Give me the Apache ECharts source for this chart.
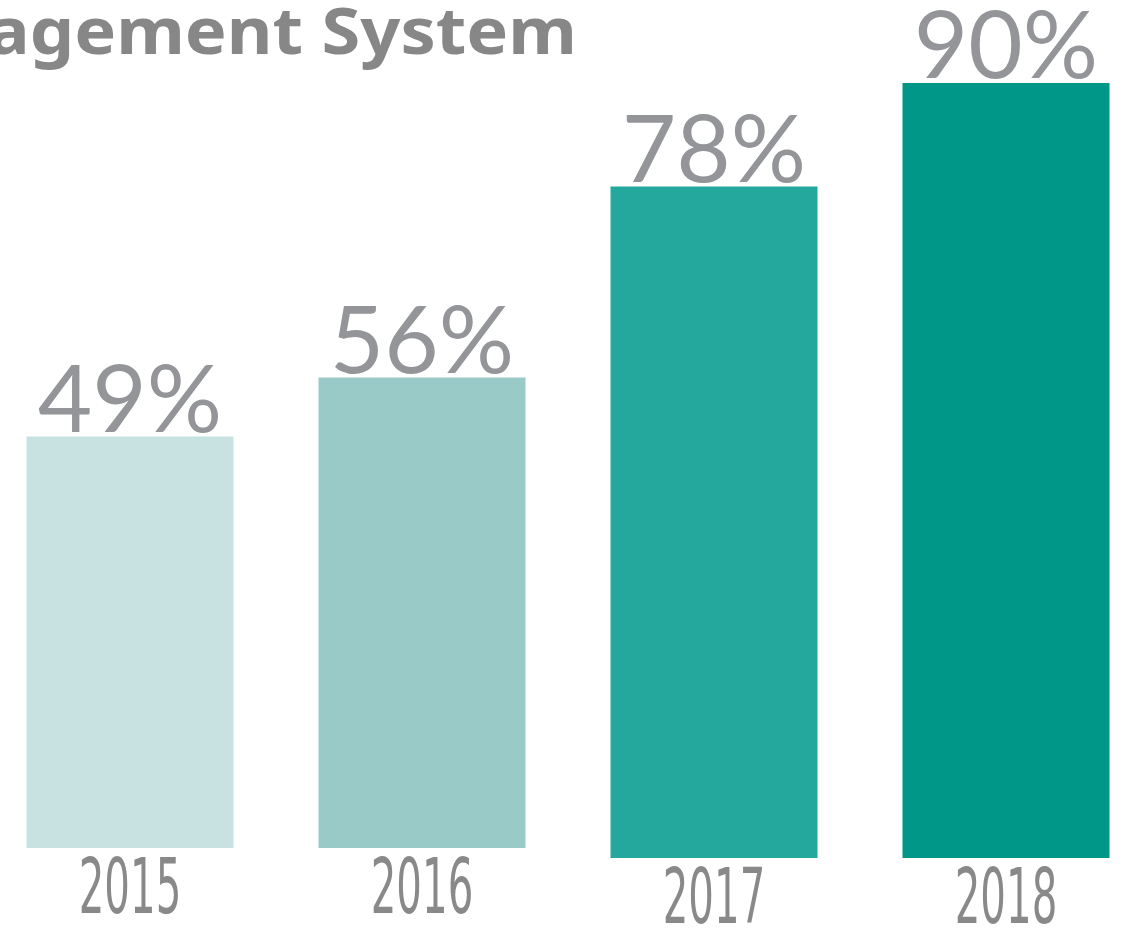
<!DOCTYPE html>
<html>
<head>
<meta charset="utf-8">
<script src="https://cdn.jsdelivr.net/npm/echarts@6/dist/echarts.min.js"></script>
<style>html,body{margin:0;padding:0;background:#fff}#c{width:1134px;height:930px}</style>
</head>
<body>
<div id="c"></div>
<script>
var titleText = 'Management System';
var categories = ['2015', '2016', '2017', '2018'];
var values = [49, 56, 78, 90];
// which baseline group each bar sits on (the source bars sit on two slightly different baselines)
var groupOf = [0, 0, 1, 1];
var barColors = ['#C8E2E2', '#99CAC7', '#24A89E', '#009788'];

function seriesData(g) {
  return values.map(function (v, i) {
    return groupOf[i] === g ? { value: v, itemStyle: { color: barColors[i] } } : '-';
  });
}

var labelFont = { fontFamily: "Lato, Roboto, 'Open Sans', sans-serif", fontWeight: 'normal', fontSize: 94, color: '#939598', lineHeight: 94 };
var axisFont = { fontFamily: "'DejaVu Sans', sans-serif", fontSize: 76, color: '#898989', lineHeight: 76 };

function xAxisFor(g) {
  return {
    type: 'category', gridIndex: g, data: categories, boundaryGap: false,
    axisLine: { show: false }, axisTick: { show: false },
    axisLabel: Object.assign({
      interval: 0, margin: 7,
      formatter: function (val, idx) { return groupOf[idx] === g ? val : ''; }
    }, axisFont)
  };
}
function yAxisFor(g) {
  return { type: 'value', gridIndex: g, min: 0, max: 100, show: false, splitLine: { show: false } };
}

var chart = echarts.init(document.getElementById('c'), null, { renderer: 'canvas' });
chart.setOption({
  animation: false,
  title: {
    text: titleText, right: 552, top: -1,
    textStyle: { fontFamily: "'Noto Sans', 'Open Sans', sans-serif", fontWeight: 'bold', fontSize: 64, color: '#878787' }
  },
  grid: [
    { left: 130, right: 128, top: 8, bottom: 82, containLabel: false, outerBoundsMode: 'none' },
    { left: 130, right: 128, top: -3, bottom: 72, containLabel: false, outerBoundsMode: 'none' }
  ],
  xAxis: [xAxisFor(0), xAxisFor(1)],
  yAxis: [yAxisFor(0), yAxisFor(1)],
  series: [0, 1].map(function (g) {
    return {
      type: 'bar', xAxisIndex: g, yAxisIndex: g, barWidth: 207, clip: false,
      data: seriesData(g),
      label: Object.assign({ show: true, position: 'top', distance: -12, formatter: '{c}%' }, labelFont)
    };
  })
});

// the source uses a very condensed face for the year labels and a wide face for the title:
// adjust those text elements horizontally
(function adjustTextWidths() {
  var zr = chart.getZr();
  zr.storage.getRoots().forEach(function (root) {
    var visit = function (el) {
      if (el.type === 'text' && el.style) {
        var t = String(el.style.text);
        if (categories.indexOf(t) >= 0) {
          el.scaleX = 0.53;
          el.markRedraw && el.markRedraw();
        } else if (t === titleText) {
          var r = el.getBoundingRect();
          el.originX = r.x + r.width;
          el.scaleX = 1.1;
          el.markRedraw && el.markRedraw();
        }
      }
      if (el.childrenRef) { el.childrenRef().forEach(visit); }
    };
    visit(root);
  });
  zr.refreshImmediately();
})();
</script>
</body>
</html>
